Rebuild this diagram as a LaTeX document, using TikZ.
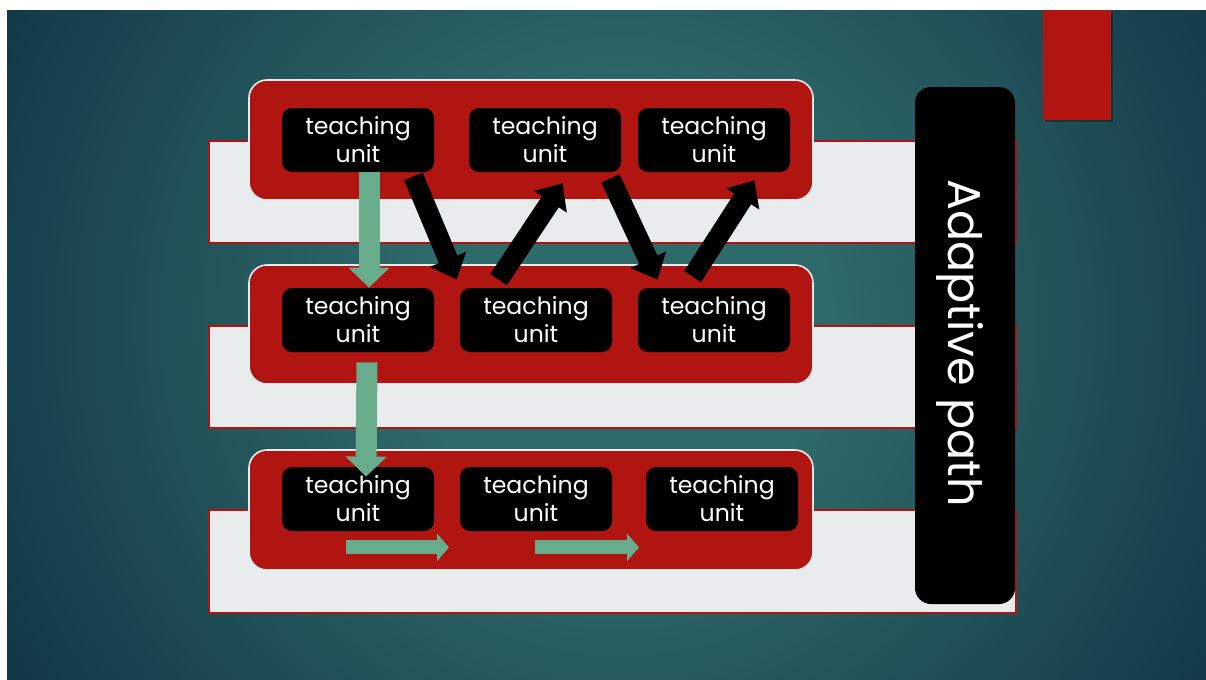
\documentclass[tikz,border=0pt]{standalone}
\usepackage{fontspec}
\setmainfont{Poppins}
\usetikzlibrary{arrows.meta,calc}
\definecolor{bgin}{RGB}{47,106,106}
\definecolor{bgout}{RGB}{15,50,66}
\definecolor{slidered}{RGB}{176,21,18}
\definecolor{bandgrey}{RGB}{232,236,237}
\definecolor{mint}{RGB}{104,172,140}
\definecolor{rimwhite}{RGB}{235,235,235}
\pgfdeclareradialshading{slidebg}{\pgfpoint{0bp}{0bp}}{color(0bp)=(bgin); color(6bp)=(bgin); color(22bp)=(bgout); color(50bp)=(bgout)}
\tikzset{
  unitbox/.style={fill=black, rounded corners=5pt, minimum width=76pt, minimum height=32pt,
    inner sep=0pt, align=center, text=white, font=\fontsize{11.8}{14}\selectfont},
  rowbox/.style={fill=slidered, draw=rimwhite, line width=0.8pt, rounded corners=9pt},
  bandbox/.style={fill=bandgrey, draw=slidered, line width=0.8pt},
  blackarrow/.style={draw=black, line width=10pt, -{Triangle[length=11pt,width=19pt]}},
  mintdown/.style={draw=mint, line width=10.5pt, -{Triangle[length=10pt,width=20pt]}},
  mintright/.style={draw=mint, line width=7pt, -{Triangle[length=6pt,width=13.5pt]}},
}
\begin{document}
\begin{tikzpicture}[x=0.5pt,y=-0.5pt]
\useasboundingbox (0,0) rectangle (1206,680);
\fill[white] (0,0) rectangle (1206,680);
\begin{scope}
  \clip (7,10) rectangle (1206,680);
  \shade[shading=slidebg] (620,320) circle (430pt);
\end{scope}
% accent
\fill[black, opacity=0.3] (1045,12) rectangle (1113,122);
\fill[slidered] (1043,10) rectangle (1111,120);
% bands
\draw[bandbox] (209,141) rectangle (1016,243);
\draw[bandbox] (209,326) rectangle (1016,428);
\draw[bandbox] (209,510) rectangle (1016,613);
% row boxes
\draw[rowbox] (249,80) rectangle (813,200);
\draw[rowbox] (249,265) rectangle (813,384);
\draw[rowbox] (249,450) rectangle (813,570);
% adaptive path pill
\node[fill=black, rounded corners=8pt, minimum width=50pt, minimum height=258.5pt, inner sep=0pt] (pill) at (965,345.5) {};
\node[rotate=-90, anchor=base, text=white, font=\fontsize{23}{28}\selectfont, inner sep=0pt] (ap) at (948,343) {Adaptive path};
% units
\node[unitbox] (u11) at (358,140) {teaching\\unit};
\node[unitbox] (u12) at (545,140) {teaching\\unit};
\node[unitbox] (u13) at (714,140) {teaching\\unit};
\node[unitbox] (u21) at (358,320) {teaching\\unit};
\node[unitbox] (u22) at (536,320) {teaching\\unit};
\node[unitbox] (u23) at (714,320) {teaching\\unit};
\node[unitbox] (u31) at (358,499) {teaching\\unit};
\node[unitbox] (u32) at (536,499) {teaching\\unit};
\node[unitbox] (u33) at (722,499) {teaching\\unit};
% green arrows
\draw[mintdown] ([shift={(11,0)}]u11.south) -- ([shift={(11,0)}]u21.north);
\draw[mintdown] ([shift={(9,10)}]u21.south) -- ([shift={(8,10)}]u31.north);
\draw[mintright] ([shift={(-12,16)}]u31.south) -- ([shift={(-87,16)}]u32.south);
\draw[mintright] ([shift={(-1,16)}]u32.south) -- ([shift={(-83,16)}]u33.south);
% black arrows
\draw[blackarrow] ([shift={(-21,4)}]u11.south east) -- ([shift={(-3,-8)}]u22.north west);
\draw[blackarrow] ([shift={(39,-8)}]u22.north west) -- ([shift={(94,11)}]u12.south west);
\draw[blackarrow] ([shift={(-11,6)}]u12.south east) -- ([shift={(20,-8)}]u23.north west);
\draw[blackarrow] ([shift={(55,-11)}]u23.north west) -- ([shift={(117,8)}]u13.south west);
\end{tikzpicture}
\end{document}
